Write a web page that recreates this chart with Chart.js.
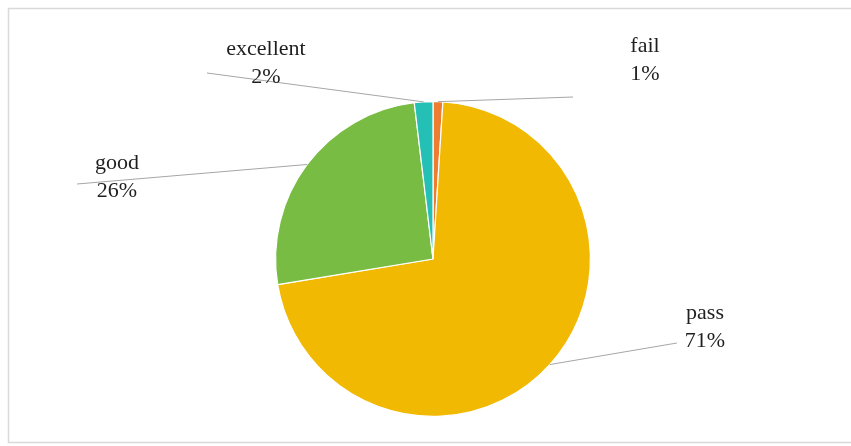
<!DOCTYPE html>
<html>
<head>
<meta charset="utf-8">
<script src="https://cdn.jsdelivr.net/npm/chart.js@4/dist/chart.umd.min.js"></script>
<style>
  html, body { margin: 0; padding: 0; background: #fff; }
  #wrap { position: relative; width: 851px; height: 446px; }
</style>
</head>
<body>
<div id="wrap"><canvas id="pieChart" width="851" height="446"></canvas></div>
<script>
// data
const categories = ['fail', 'pass', 'good', 'excellent'];
const shares = [1.0, 71.4, 25.7, 1.9];
const sliceColors = ['#ED7D31', '#F2B902', '#78BC43', '#24BFB5'];

// where each data label sits (text centre x, first baseline y) and where its leader line ends
const labelLayout = [
    { x: 645, y: 52, lx: 573, ly: 97 },
    { x: 705, y: 319, lx: 677, ly: 343 },
    { x: 117, y: 169, lx: 77, ly: 184 },
    { x: 266, y: 55, lx: 207, ly: 73 }
];

const frameAndLabels = {
    id: 'frameAndLabels',
    beforeDraw(chart) {
        const c = chart.ctx;
        c.save();
        c.strokeStyle = '#d9d9d9';
        c.lineWidth = 1.5;
        c.strokeRect(8.5, 8.5, 860, 434);
        c.restore();
    },
    afterDatasetsDraw(chart) {
        const c = chart.ctx;
        const meta = chart.getDatasetMeta(0);
        const total = shares.reduce((a, b) => a + b, 0);
        c.save();
        meta.data.forEach((arc, i) => {
            const p = arc.getProps(['x', 'y', 'startAngle', 'endAngle', 'outerRadius'], true);
            const mid = (p.startAngle + p.endAngle) / 2;
            const ax = p.x + Math.cos(mid) * p.outerRadius;
            const ay = p.y + Math.sin(mid) * p.outerRadius;
            const L = labelLayout[i];
            c.strokeStyle = '#a6a6a6';
            c.lineWidth = 1;
            c.beginPath();
            c.moveTo(ax, ay);
            c.lineTo(L.lx, L.ly);
            c.stroke();
        });
        c.fillStyle = '#1f1f1f';
        c.font = '22px "Liberation Serif", "Times New Roman", serif';
        c.textAlign = 'center';
        c.textBaseline = 'alphabetic';
        categories.forEach((name, i) => {
            const L = labelLayout[i];
            const pct = Math.round(shares[i] / total * 100) + '%';
            c.fillText(name, L.x, L.y);
            c.fillText(pct, L.x, L.y + 28);
        });
        c.restore();
    }
};

new Chart(document.getElementById('pieChart'), {
    type: 'pie',
    data: {
        labels: categories,
        datasets: [{
            data: shares,
            backgroundColor: sliceColors,
            borderColor: '#ffffff',
            borderWidth: 1.2
        }]
    },
    options: {
        responsive: false,
        animation: false,
        layout: { padding: { top: 101, bottom: 29, left: 100, right: 85 } },
        plugins: {
            legend: { display: false },
            tooltip: { enabled: false }
        }
    },
    plugins: [frameAndLabels]
});
</script>
</body>
</html>
